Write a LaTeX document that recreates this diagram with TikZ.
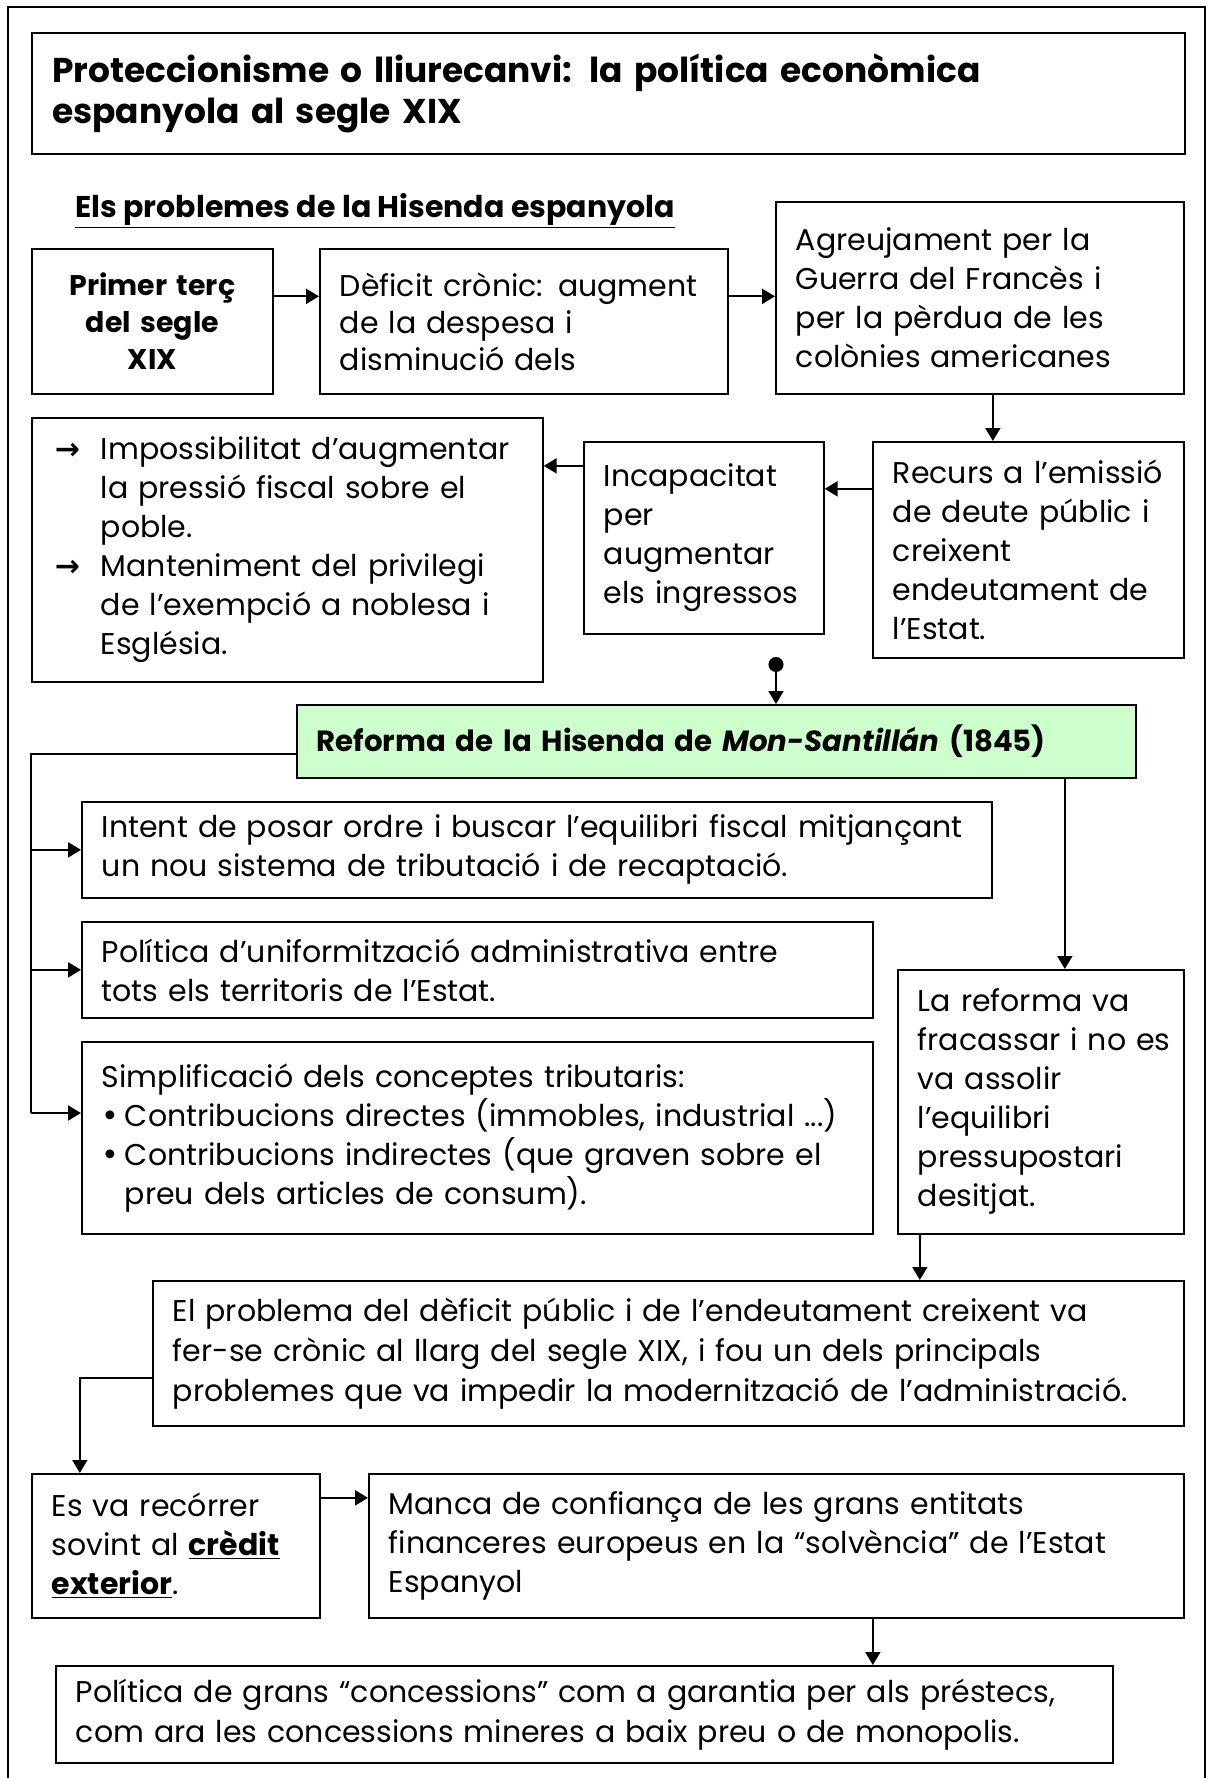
\documentclass[tikz,border=0pt]{standalone}
\usepackage{fontspec}
\setmainfont{Poppins}
\newfontfamily\symfont{DejaVu Sans}
\usetikzlibrary{arrows.meta}
\definecolor{reformgreen}{HTML}{CCFFCC}
\newcommand\bodyfont{\fontsize{15}{19.5}\selectfont}
\newcommand\arrowitem{\hangindent=23pt\hangafter=1\noindent\makebox[23pt][l]{\symfont\bfseries →}}
\newcommand\bulletitem{\hangindent=11.5pt\hangafter=1\noindent\makebox[11.5pt][l]{\symfont •}}
\tikzset{
    box/.style={draw, line width=0.85pt, anchor=north west, inner xsep=10pt, inner ysep=0pt, align=left, font=\bodyfont},
    boxsize/.code 2 args={%
        \pgfmathsetmacro\boxw{#1/2}%
        \pgfmathsetmacro\boxh{#2/2}%
        \pgfmathsetmacro\boxtw{#1/2-20}%
        \edef\boxopts{minimum width=\boxw pt,minimum height=\boxh pt,text width=\boxtw pt}%
        \expandafter\pgfkeysalso\expandafter{\boxopts}},
    tip/.style={-{Triangle[width=7.5pt,length=6.5pt]}},
    thin link/.style={tip, line width=0.8pt},
    thick link/.style={tip, line width=1.1pt},
    dot link/.style={{Circle[length=7.5pt]}-{Triangle[width=7.5pt,length=6.5pt]}, line width=0.8pt}
}
\begin{document}
\begin{tikzpicture}[x=0.5pt,y=-0.5pt,line join=miter]
    \fill[white] (0,0) rectangle (1207,1778);
    \useasboundingbox (0,0) rectangle (1207,1778);
    \draw[line width=1.4pt] (8,1778) -- (8,7) -- (1205,7) -- (1205,1778);
    \node[box, boxsize={1153}{121}, line width=1.1pt, font=\fontsize{17.2}{20.5}\selectfont\bfseries] (T) at (31,32)
        {Proteccionisme o lliurecanvi: la política econòmica\\espanyola al segle XIX};
    \node[anchor=base west, inner sep=0pt, font=\fontsize{15}{16}\selectfont\bfseries] (S) at (75,217)
        {\underline{Els problemes de la Hisenda espanyola}};
    \node[box, boxsize={241}{145}, align=center, font=\fontsize{14.2}{18.5}\selectfont\bfseries] (A) at (31,248)
        {Primer terç\\del segle\\XIX};
    \node[box, boxsize={408}{145}, font=\fontsize{15}{18.5}\selectfont] (B) at (319,248)
        {Dèficit crònic: augment\\de la despesa i\\disminució dels};
    \node[box, boxsize={408}{192}] (C) at (775,201)
        {Agreujament per la\\Guerra del Francès i\\per la pèrdua de les\\colònies americanes};
    \node[box, boxsize={505}{264}, inner xsep=11.5pt] (D) at (31,417)
        {\arrowitem Impossibilitat d’augmentar\newline la pressió fiscal sobre el\newline poble.\par
         \arrowitem Manteniment del privilegi\newline de l’exempció a noblesa i\newline Església.\par};
    \node[box, boxsize={240}{192}] (E) at (583,441)
        {Incapacitat\\per\\augmentar\\els ingressos};
    \node[box, boxsize={311}{216}] (F) at (872,441)
        {Recurs a l’emissió\\de deute públic i\\creixent\\endeutament de\\l’Estat.};
    \node[box, boxsize={839}{73}, fill=reformgreen, font=\fontsize{14.6}{16}\selectfont\bfseries] (R) at (296,704)
        {Reforma de la Hisenda de \textit{Mon-Santillán} (1845)};
    \node[box, boxsize={910}{96}] (G) at (81,801)
        {Intent de posar ordre i buscar l’equilibri fiscal mitjançant\\un nou sistema de tributació i de recaptació.};
    \node[box, boxsize={791}{96}] (H) at (81,921)
        {Política d’uniformització administrativa entre\\tots els territoris de l’Estat.};
    \node[box, boxsize={791}{192}] (I) at (81,1041)
        {Simplificació dels conceptes tributaris:\par
         \bulletitem Contribucions directes (immobles, industrial ...)\par
         \bulletitem Contribucions indirectes (que graven sobre el\newline preu dels articles de consum).\par};
    \node[box, boxsize={286}{264}] (J) at (897,969)
        {La reforma va\\fracassar~i~no~es\\va assolir\\l’equilibri\\pressupostari\\desitjat.};
    \node[box, boxsize={1031}{145}, font=\fontsize{15}{20}\selectfont] (K) at (152,1280)
        {El problema del dèficit públic i de l’endeutament creixent va\\fer-se crònic al llarg del segle XIX, i fou un dels principals\\problemes que va impedir la modernització de l’administració.};
    \node[box, boxsize={288}{144}] (L) at (31,1473)
        {Es va recórrer\\sovint al \underline{\textbf{crèdit}}\\\underline{\textbf{exterior}}.};
    \node[box, boxsize={815}{144}] (M) at (368,1473)
        {Manca de confiança de les grans entitats\\financeres europeus en la “solvència” de l’Estat\\Espanyol};
    \node[box, boxsize={1057}{97}, font=\fontsize{15}{20}\selectfont] (N) at (55,1665)
        {Política de grans “concessions” com a garantia per als préstecs,\\com ara les concessions mineres a baix preu o de monopolis.};
    \draw[thick link] ([yshift=12.5pt]A.east) -- ([yshift=12.5pt]B.west);
    \draw[thick link] ([yshift=12.5pt]B.east) -- ([yshift=12.5pt]B.east -| C.west);
    \draw[thin link] ([xshift=6.5pt]C.south) -- ([xshift=6.5pt]C.south |- F.north);
    \draw[thick link] ([yshift=30.5pt]F.west) -- ([yshift=30.5pt]F.west -| E.east);
    \draw[thick link] ([yshift=36pt]E.west) -- ([yshift=36pt]E.west -| D.east);
    \coordinate (dot) at (776,657);
    \draw[dot link] (dot) -- (dot |- R.north);
    \coordinate (trunk) at (31,1113);
    \draw[line width=1pt] ([yshift=-6.25pt]R.west) -| (trunk);
    \draw[thick link] (trunk |- G.west) -- (G.west);
    \draw[thick link] (trunk |- H.west) -- (H.west);
    \draw[thick link] (trunk) -- (trunk -| I.west);
    \draw[thin link] ([xshift=12pt]J.north |- R.south) -- ([xshift=12pt]J.north);
    \draw[thin link] ([xshift=-60.5pt]J.south) -- ([xshift=-60.5pt]J.south |- K.north);
    \draw[thin link] ([yshift=-12.25pt]K.west) -| ([xshift=-48pt]L.north);
    \draw[thick link] ([yshift=24pt]L.east) -- ([yshift=24pt]L.east -| M.west);
    \draw[thin link] ([xshift=48.25pt]M.south) -- ([xshift=48.25pt]M.south |- N.north);
\end{tikzpicture}
\end{document}
